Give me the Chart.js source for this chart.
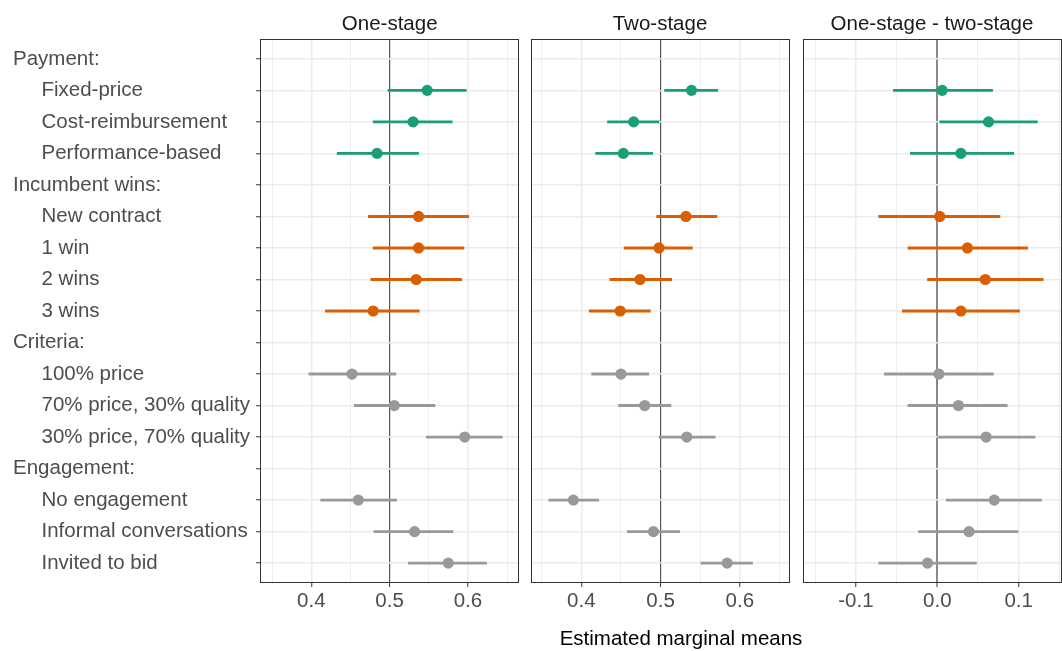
<!DOCTYPE html>
<html>
<head>
<meta charset="utf-8">
<script src="https://cdn.jsdelivr.net/npm/chart.js@4.4.1/dist/chart.umd.min.js"></script>
<style>
  html, body { margin:0; padding:0; background:#fff; overflow:hidden; width:1062px; height:651px; }
  canvas { position:absolute; top:0; }
  #c1 { left:0; }
  #c2 { left:525px; }
  #c3 { left:797px; }
  #xtitle { position:absolute; left:481px; width:400px; top:626px; text-align:center;
            font:20.5px "Liberation Sans", Arial, sans-serif; line-height:24px; color:#000; }
</style>
</head>
<body>
<canvas id="c1" width="525" height="651"></canvas>
<canvas id="c2" width="270" height="651"></canvas>
<canvas id="c3" width="270" height="651"></canvas>
<div id="xtitle">Estimated marginal means</div>
<script>
// ---------- data ----------
const attributes = ["Payment", "Incumbent wins", "Criteria", "Engagement"];
const levels = [
  ["Fixed-price", "Cost-reimbursement", "Performance-based"],
  ["New contract", "1 win", "2 wins", "3 wins"],
  ["100% price", "70% price, 30% quality", "30% price, 70% quality"],
  ["No engagement", "Informal conversations", "Invited to bid"]
];
const attributeColors = ["#1b9e77", "#d95f02", "#999999", "#999999"];
const panelTitles = ["One-stage", "Two-stage", "One-stage - two-stage"];

const oneStageEst  = [0.548, 0.530, 0.484, 0.537, 0.537, 0.534, 0.479, 0.452, 0.506, 0.596, 0.460, 0.532, 0.575];
const oneStageLow  = [0.498, 0.479, 0.433, 0.473, 0.479, 0.476, 0.418, 0.397, 0.455, 0.547, 0.412, 0.480, 0.524];
const oneStageHigh = [0.598, 0.580, 0.537, 0.601, 0.595, 0.592, 0.538, 0.508, 0.558, 0.644, 0.509, 0.581, 0.624];

const twoStageEst  = [0.539, 0.466, 0.453, 0.532, 0.498, 0.474, 0.449, 0.450, 0.480, 0.533, 0.390, 0.491, 0.584];
const twoStageLow  = [0.505, 0.433, 0.418, 0.495, 0.454, 0.436, 0.410, 0.413, 0.447, 0.498, 0.359, 0.458, 0.551];
const twoStageHigh = [0.572, 0.498, 0.490, 0.571, 0.540, 0.514, 0.487, 0.485, 0.513, 0.569, 0.422, 0.524, 0.616];

const diffEst  = [0.006, 0.063, 0.029, 0.003, 0.037, 0.059, 0.029, 0.002, 0.026, 0.060, 0.070, 0.039, -0.012];
const diffLow  = [-0.054, 0.003, -0.033, -0.072, -0.036, -0.012, -0.043, -0.065, -0.036, 0.001, 0.011, -0.023, -0.072];
const diffHigh = [0.068, 0.123, 0.094, 0.077, 0.111, 0.130, 0.101, 0.069, 0.086, 0.120, 0.128, 0.099, 0.048];

const meanTicks = [0.35, 0.4, 0.45, 0.5, 0.55, 0.6, 0.65];
const meanTickLabels = ["", "0.4", "", "0.5", "", "0.6", ""];
const diffTicks = [-0.15, -0.1, -0.05, 0, 0.05, 0.1, 0.15];
const diffTickLabels = ["", "-0.1", "", "0.0", "", "0.1", ""];

// ---------- rows ----------
const rowLabels = [], rowIsHeader = [], levelRow = [], levelColor = [];
attributes.forEach((a, i) => {
  rowLabels.push(a + ":"); rowIsHeader.push(true);
  levels[i].forEach(l => {
    levelRow.push(rowLabels.length); levelColor.push(attributeColors[i]);
    rowLabels.push(l); rowIsHeader.push(false);
  });
});

const FONT = "'Liberation Sans', Arial, sans-serif";
Chart.defaults.font.family = FONT;
Chart.defaults.font.size = 20.5;

const boxPlugin = {
  id: 'panelBox',
  afterDraw(chart) {
    const { ctx, chartArea: a } = chart;
    ctx.save();
    ctx.strokeStyle = '#333333';
    ctx.lineWidth = 1;
    ctx.strokeRect(Math.round(a.left) + 0.5, Math.round(a.top) + 0.5,
                   Math.round(a.right - a.left) - 1, Math.round(a.bottom - a.top) - 1);
    ctx.restore();
  }
};

function makePanel(id, title, est, low, high, ticks, tickLabels, xmin, xmax, ref, refColor, refWidth, showY, padL, padR) {
  return new Chart(document.getElementById(id), {
    type: 'scatter',
    data: {
      datasets: [
        {
          type: 'scatter', order: 1,
          data: levelRow.map((r, i) => ({ x: est[i], y: r })),
          pointRadius: 5.6, pointHoverRadius: 5.6,
          pointBackgroundColor: levelColor, pointBorderWidth: 0
        },
        {
          type: 'bar', order: 2, indexAxis: 'y',
          data: levelRow.map((r, i) => ({ y: r, x: [low[i], high[i]] })),
          backgroundColor: levelColor, borderWidth: 0, barThickness: 2.2
        }
      ]
    },
    options: {
      responsive: false, animation: false, devicePixelRatio: 1,
      layout: { padding: { left: padL, right: padR, top: 0, bottom: 0 } },
      plugins: {
        legend: { display: false }, tooltip: { enabled: false },
        title: {
          display: true, text: title, fullSize: false, color: '#1a1a1a',
          font: { size: 20.5, weight: 'normal' }, padding: { top: 12, bottom: 2.4 }
        }
      },
      scales: {
        x: {
          type: 'linear', min: xmin, max: xmax, bounds: 'data', offset: false, beginAtZero: false,
          afterBuildTicks: s => { s.ticks = ticks.map(v => ({ value: v })); },
          afterFit: s => { s.height = 68; },
          border: { display: false },
          grid: {
            offset: false,
            color: c => (c.tick && c.tick.value === ref) ? refColor : '#ebebeb',
            lineWidth: c => (c.tick && c.tick.value === ref) ? refWidth : (tickLabels[c.index] ? 1.5 : 0.8),
            tickLength: 4, tickWidth: 1,
            tickColor: c => tickLabels[c.index] ? '#333333' : 'rgba(0,0,0,0)'
          },
          ticks: {
            autoSkip: false, maxRotation: 0, minRotation: 0, padding: 2,
            color: '#4d4d4d', font: { size: 20.5 },
            callback: (v, i) => tickLabels[i]
          }
        },
        y: {
          type: 'linear', reverse: true, min: -0.63, max: 16.63, bounds: 'data', offset: false, beginAtZero: false,
          afterBuildTicks: s => { s.ticks = rowLabels.map((_, i) => ({ value: i })); },
          afterFit: s => { s.width = showY ? 247 : 0; },
          border: { display: false },
          grid: { offset: false, color: '#ebebeb', lineWidth: 1.5, drawTicks: showY, tickLength: 4, tickColor: '#333333', tickWidth: 1 },
          ticks: {
            display: showY, crossAlign: 'far', autoSkip: false, padding: 0,
            color: '#4d4d4d', font: { size: 20.5 },
            callback: v => (rowIsHeader[v] ? '' : '     ') + rowLabels[v]
          }
        }
      }
    },
    plugins: [boxPlugin]
  });
}

makePanel('c1', panelTitles[0], oneStageEst, oneStageLow, oneStageHigh, meanTicks, meanTickLabels,
          0.3345, 0.6658, 0.5, '#555555', 1.2, true, 13, 3);
makePanel('c2', panelTitles[1], twoStageEst, twoStageLow, twoStageHigh, meanTicks, meanTickLabels,
          0.336, 0.6625, 0.5, '#555555', 1.2, false, 5.3, 3.3);
makePanel('c3', panelTitles[2], diffEst, diffLow, diffHigh, diffTicks, diffTickLabels,
          -0.1655, 0.1525, 0, '#8a8a8a', 2, false, 4.7, 4);
</script>
</body>
</html>
